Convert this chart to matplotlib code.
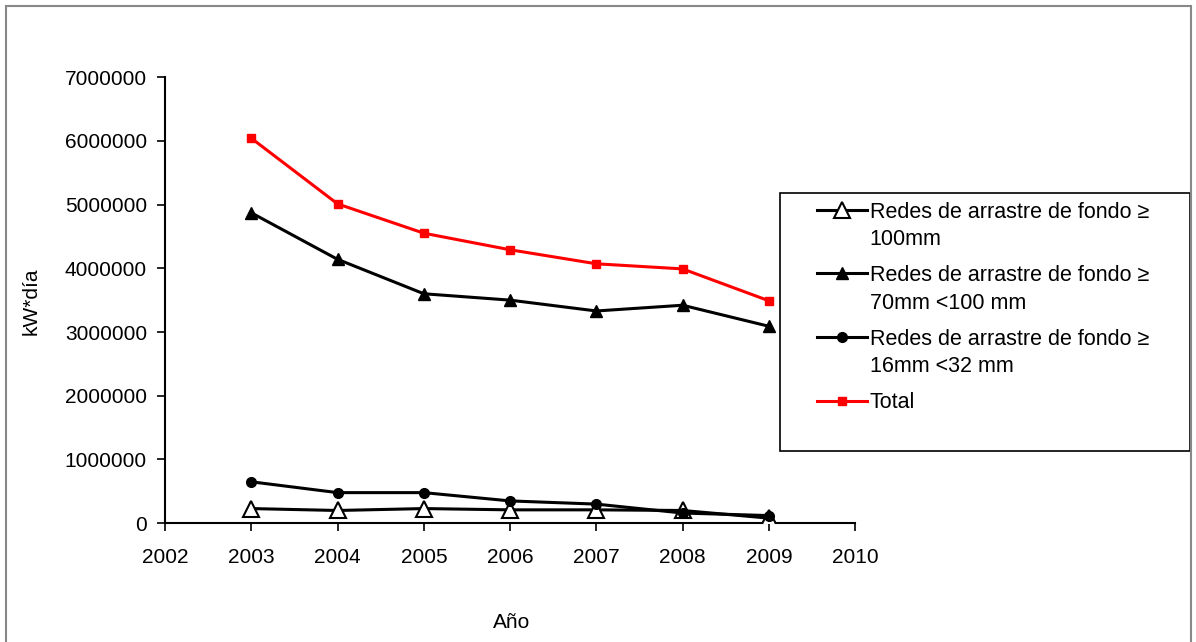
import matplotlib
matplotlib.use("Agg")
import matplotlib.pyplot as plt
from matplotlib.patches import Rectangle
from matplotlib.legend_handler import HandlerLine2D

plt.rcParams['font.family'] = ['Liberation Sans', 'DejaVu Sans']

years = [2003, 2004, 2005, 2006, 2007, 2008, 2009]
redes_100 = [230000, 200000, 230000, 210000, 210000, 200000, 80000]
redes_70_100 = [4870000, 4140000, 3600000, 3500000, 3330000, 3420000, 3090000]
redes_16_32 = [650000, 480000, 480000, 350000, 300000, 160000, 120000]
total = [6040000, 5010000, 4550000, 4290000, 4070000, 3990000, 3490000]

labels = ["Redes de arrastre de fondo \u2265\n100mm",
          "Redes de arrastre de fondo \u2265\n70mm <100 mm",
          "Redes de arrastre de fondo \u2265\n16mm <32 mm",
          "Total"]


class FirstLineHandler(HandlerLine2D):
    # put the legend sample beside the first line of a two-line label
    def create_artists(self, legend, orig_handle, xdescent, ydescent,
                       width, height, fontsize, trans):
        return super().create_artists(legend, orig_handle, xdescent, ydescent - 24.5,
                                      width, height, fontsize, trans)


fig = plt.figure(figsize=(11.96, 6.42), dpi=100)
ax = fig.add_axes([0.138, 0.185, 0.577, 0.695])

l1, = ax.plot(years, redes_100, color='black', lw=2.2, marker='^', ms=12,
              mfc='white', mec='black', mew=1.5, zorder=3)
l2, = ax.plot(years, redes_70_100, color='black', lw=2.2, marker='^', ms=8,
              mfc='black', mec='black', zorder=3)
l3, = ax.plot(years, redes_16_32, color='black', lw=2.2, marker='o', ms=7,
              mfc='black', mec='black', zorder=4)
l4, = ax.plot(years, total, color='#ff0000', lw=2.2, marker='s', ms=6,
              mfc='#ff0000', mec='#ff0000', zorder=3)

ax.set_xlim(2002, 2010)
ax.set_ylim(0, 7000000)
ax.set_xticks(range(2002, 2011))
ax.set_yticks(range(0, 7000001, 1000000))
ax.yaxis.set_major_formatter(matplotlib.ticker.StrMethodFormatter('{x:.0f}'))
ax.tick_params(labelsize=15, length=6, width=1.2, direction='out')
ax.tick_params(axis='x', pad=12)
ax.tick_params(axis='y', pad=7)
for s in ['top', 'right']:
    ax.spines[s].set_visible(False)
for s in ['left', 'bottom']:
    ax.spines[s].set_linewidth(1.5)

fig.text(0.026, 0.53, 'kW*día', rotation=90, fontsize=15, ha='center', va='center')
fig.text(0.428, 0.03, 'Año', fontsize=15, ha='center', va='center')

# legend frame
fig.patches.append(Rectangle((780 / 1196, 1 - 451 / 642), 410 / 1196, 258 / 642,
                             transform=fig.transFigure, fill=False, ec='black', lw=1.2))
up = FirstLineHandler()
leg = fig.legend([l1, l2, l3, l4], labels, loc='upper left',
                 bbox_to_anchor=(817 / 1196, 1 - 202 / 642), frameon=False,
                 handlelength=2.3, handletextpad=0.15, labelspacing=0.7,
                 borderaxespad=0, borderpad=0, prop={'size': 15.5},
                 handler_map={l1: up, l2: up, l3: up})
for t in leg.get_texts():
    t.set_linespacing(1.4)

# outer chart border
fig.patches.append(Rectangle((6 / 1196, -0.05), 1185 / 1196, 1.04 - 6 / 642 + 0.01,
                             transform=fig.transFigure, fill=False, ec='#888888', lw=1.5))

fig.savefig('out.png', dpi=100)
